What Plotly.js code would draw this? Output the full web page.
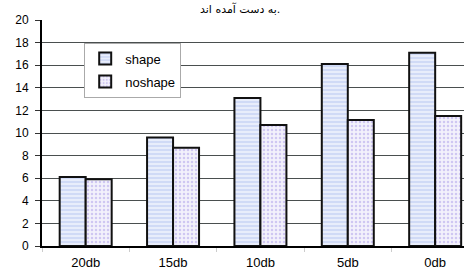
<!DOCTYPE html>
<html><head><meta charset="utf-8">
<script src="https://cdn.plot.ly/plotly-3.0.1.min.js"></script>
<style>html,body{margin:0;padding:0;background:#fff}#c{width:464px;height:273px}</style>
</head><body><div id="c"></div>
<script>
const categories = ["20db", "15db", "10db", "5db", "0db"];
const shapeVals = [6.1, 9.6, 13.1, 16.1, 17.1];
const noshapeVals = [5.9, 8.7, 10.7, 11.15, 11.5];
const yTicks = [0, 2, 4, 6, 8, 10, 12, 14, 16, 18, 20];
const titleText = "به دست آمده اند.";

const traces = [
  {type: "bar", name: "shape", x: categories, y: shapeVals, legendgroup: "a",
   marker: {color: "#e3e9fa", line: {color: "#111", width: 2},
            pattern: {shape: "-", fgcolor: "#c6d2f4", bgcolor: "#e8edfb", size: 4, solidity: 0.35}}},
  {type: "bar", name: "noshape", x: categories, y: noshapeVals, legendgroup: "b",
   marker: {color: "#eeebfb", line: {color: "#111", width: 2},
            pattern: {shape: ".", fgcolor: "#cfc7f2", bgcolor: "#f3f1fc", size: 4, solidity: 0.3}}}
];

const layout = {
  width: 464, height: 273,
  margin: {l: 42, r: 0, t: 20, b: 27, pad: 0},
  paper_bgcolor: "#fff", plot_bgcolor: "#fff",
  barmode: "group", bargap: 0.405, bargroupgap: 0,
  font: {family: "Liberation Sans, Arial, sans-serif", size: 12, color: "#000"},
  xaxis: {type: "category", range: [-0.5, 4.33], showgrid: false,
          showline: true, linecolor: "#000", linewidth: 2,
          ticks: "outside", tickson: "boundaries", ticklen: 4, tickcolor: "#ccc", tickwidth: 1,
          tickfont: {size: 13}, ticklabelstandoff: 3, fixedrange: true},
  yaxis: {range: [0, 20], tickvals: yTicks, ticks: "outside", ticklen: 5,
          tickcolor: "#333", tickwidth: 1, showline: true, linecolor: "#000", linewidth: 2,
          showgrid: true, gridcolor: "#4a4f4f", gridwidth: 1, zeroline: false,
          tickfont: {size: 12}, ticklabelstandoff: 4},
  legend: {x: 0.1, y: 0.9, xanchor: "left", yanchor: "top",
           bgcolor: "#fff", bordercolor: "#aaa", borderwidth: 1,
           font: {size: 13, family: "Liberation Sans, Arial, sans-serif"},
           itemwidth: 30, tracegroupgap: 3},
  annotations: [{text: titleText, xref: "paper", yref: "paper", x: 0.47, y: 1.087,
                 xanchor: "center", yanchor: "top", showarrow: false,
                 font: {family: "DejaVu Sans, sans-serif", size: 11, color: "#000"}}],
  showlegend: true
};
Plotly.newPlot("c", traces, layout, {displayModeBar: false, staticPlot: true});
</script></body></html>
